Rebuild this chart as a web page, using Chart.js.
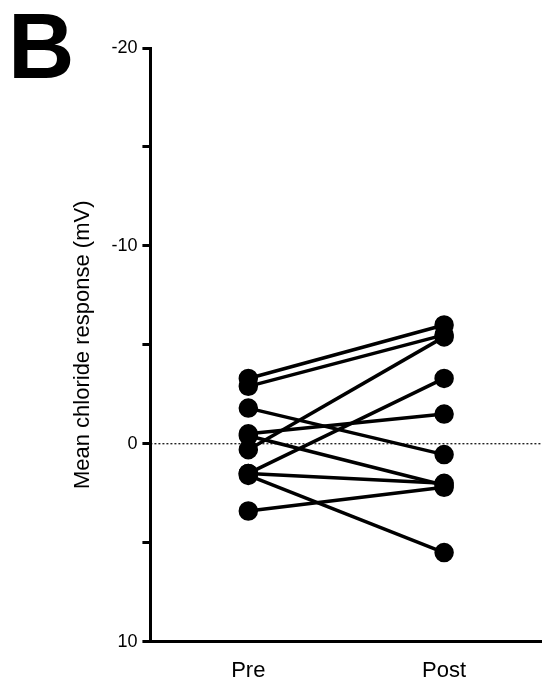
<!DOCTYPE html>
<html><head><meta charset="utf-8">
<script src="https://cdn.jsdelivr.net/npm/chart.js@4"></script>
<style>body{margin:0;background:#fff}#wrap{position:relative;width:542px;height:686px}
#lbl{position:absolute;left:8px;top:-6px;font:bold 92px "Liberation Sans",Arial;color:#000}</style>
</head><body><div id="wrap"><canvas id="c" width="542" height="686"></canvas><div id="lbl">B</div></div>
<script>
const categories = ['Pre', 'Post'];
const preValues = [-3.3, -2.9, -1.8, -0.5, -0.4, 0.3, 1.5, 1.5, 1.6, 3.4];
const postValues = [-6.0, -5.5, 0.55, -1.5, 2.1, -5.4, -3.3, 2.0, 5.5, 2.2];
const yTicks = [-20, -10, 0, 10];

const datasets = preValues.map((p, i) => ({
  data: [p, postValues[i]],
  borderColor: '#000', backgroundColor: '#000',
  borderWidth: 3.5, pointRadius: 8, pointHoverRadius: 8
}));

// dotted zero line
const zeroLine = {
  id: 'zero',
  beforeDatasetsDraw(chart) {
    const {ctx, chartArea, scales} = chart;
    const y = scales.y.getPixelForValue(0);
    ctx.save();
    ctx.setLineDash([2, 2]);
    ctx.lineWidth = 1.2;
    ctx.strokeStyle = '#000';
    ctx.beginPath(); ctx.moveTo(chartArea.left, y); ctx.lineTo(chartArea.right, y); ctx.stroke();
    ctx.restore();
  }
};

new Chart(document.getElementById('c'), {
  type: 'line',
  data: { labels: categories, datasets },
  plugins: [zeroLine],
  options: {
    responsive: false, animation: false,
    layout: { autoPadding: false, padding: { top: 48, right: 0, left: 60, bottom: -14 } },
    plugins: { legend: { display: false }, tooltip: { enabled: false } },
    scales: {
      x: {
        offset: true,
        grid: { display: true, drawOnChartArea: false, offset: false, drawTicks: true, tickLength: 0, tickColor: '#000' },
        border: { color: '#000', width: 3 },
        ticks: { color: '#000', font: { family: 'Liberation Sans', size: 22 }, padding: 16 }
      },
      y: {
        reverse: true, min: -20, max: 10,
        grid: { display: true, drawOnChartArea: false, drawTicks: true, tickLength: 8, tickColor: '#000', tickWidth: 3 },
        border: { color: '#000', width: 3 },
        ticks: { stepSize: 5, color: '#000', font: { family: 'Liberation Sans', size: 18 }, padding: 5,
          callback: v => yTicks.includes(v) ? String(v) : '' },
        title: { display: true, text: 'Mean chloride response (mV)', color: '#000', padding: 10,
          font: { family: 'Liberation Sans', size: 22 } }
      }
    }
  }
});
</script></body></html>
